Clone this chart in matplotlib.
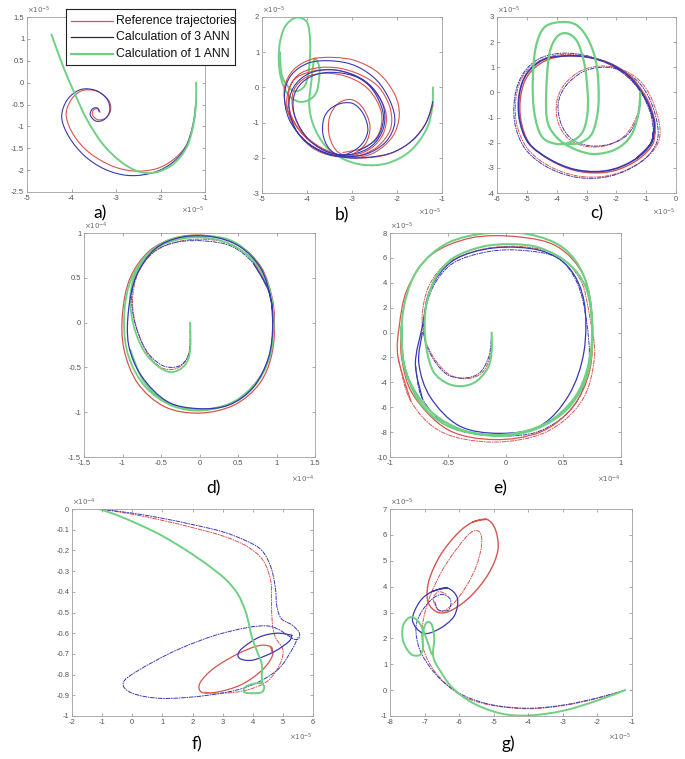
import numpy as np
import matplotlib
matplotlib.use('Agg')
from matplotlib import pyplot as plt
from matplotlib.path import Path
from matplotlib.patches import PathPatch
from matplotlib.ticker import FuncFormatter

plt.rcParams['font.family'] = ['Liberation Sans', 'DejaVu Sans']
plt.rcParams['axes.unicode_minus'] = False

RED = '#d9534f'
BLUE = '#3838b4'
GREEN = '#6fd083'
NAVY = '#23236e'
DASHDOT = (0, (4, 1.5, 1, 1.5))

labels = ['Reference trajectories', 'Calculation of 3 ANN', 'Calculation of 1 ANN']

# ---- panel a (x, y in 1e-5)
a_ref = [(-1.2, -0.45), (-1.25, -0.9), (-1.4, -1.4), (-1.7, -1.75), (-2.1, -1.97), (-2.6, -2.02),
         (-3.1, -1.9), (-3.6, -1.6), (-3.95, -1.2), (-4.12, -0.75), (-4.0, -0.38), (-3.75, -0.18),
         (-3.42, -0.2), (-3.17, -0.4), (-3.12, -0.62), (-3.22, -0.8), (-3.4, -0.85), (-3.53, -0.74),
         (-3.5, -0.62), (-3.4, -0.6), (-3.36, -0.68)]
a_ann3 = [(-1.2, -0.4), (-1.27, -0.95), (-1.45, -1.5), (-1.8, -1.88), (-2.25, -2.08), (-2.75, -2.12),
          (-3.25, -1.98), (-3.7, -1.68), (-4.05, -1.25), (-4.22, -0.8), (-4.1, -0.4), (-3.8, -0.16),
          (-3.45, -0.18), (-3.2, -0.38), (-3.14, -0.64), (-3.26, -0.84), (-3.45, -0.88), (-3.58, -0.74),
          (-3.53, -0.6), (-3.42, -0.58), (-3.38, -0.66)]
a_ann1 = [(-4.45, 1.1), (-4.2, 0.4), (-3.95, -0.2), (-3.65, -0.85), (-3.3, -1.4), (-2.9, -1.8),
          (-2.5, -2.03), (-2.1, -2.05), (-1.7, -1.85), (-1.4, -1.45), (-1.25, -0.9), (-1.2, -0.4), (-1.2, 0.0)]

# ---- panel b (x, y in 1e-5)
b_ref = [(-1.2, -0.5), (-1.4, -1.1), (-1.75, -1.6), (-2.2, -1.9), (-2.7, -2.0),
         (-3.2, -1.95), (-3.7, -1.7), (-4.15, -1.25), (-4.45, -0.6), (-4.5, 0.0), (-4.3, 0.5), (-3.9, 0.8),
         (-3.4, 0.85), (-2.9, 0.75), (-2.4, 0.4), (-2.05, -0.2), (-1.95, -0.8), (-2.1, -1.4), (-2.5, -1.85),
         (-3.0, -2.0), (-3.5, -1.85), (-4.0, -1.45), (-4.35, -0.8), (-4.4, -0.1), (-4.2, 0.35), (-3.8, 0.55),
         (-3.3, 0.55), (-2.8, 0.35), (-2.4, 0.0), (-2.15, -0.6), (-2.15, -1.2), (-2.45, -1.7), (-2.9, -1.95),
         (-3.3, -1.85), (-3.5, -1.4), (-3.5, -0.85), (-3.3, -0.45), (-3.0, -0.35), (-2.75, -0.6), (-2.6, -1.1),
         (-2.7, -1.6), (-3.0, -1.9), (-3.4, -1.95), (-3.9, -1.7), (-4.3, -1.1), (-4.45, -0.4), (-4.3, 0.2),
         (-3.9, 0.45), (-3.4, 0.5), (-2.9, 0.3), (-2.5, -0.1), (-2.25, -0.7), (-2.3, -1.3), (-2.6, -1.75),
         (-3.1, -1.95), (-3.6, -1.8), (-4.05, -1.35), (-4.3, -0.7), (-4.3, -0.1), (-4.0, 0.3), (-3.5, 0.4),
         (-3.0, 0.25), (-2.6, -0.1), (-2.35, -0.7), (-2.4, -1.3), (-2.7, -1.7), (-3.2, -1.85)]
b_ann3 = [(-1.2, -0.4), (-1.35, -1.0), (-1.65, -1.5), (-2.1, -1.85), (-2.6, -1.98), (-3.1, -2.0),
          (-3.6, -1.85), (-4.05, -1.5), (-4.4, -0.9), (-4.5, -0.2), (-4.35, 0.35), (-3.95, 0.7),
          (-3.4, 0.75), (-2.9, 0.6), (-2.45, 0.2), (-2.15, -0.4), (-2.05, -1.0), (-2.25, -1.55),
          (-2.7, -1.9), (-3.2, -1.95), (-3.5, -1.75), (-3.65, -1.3), (-3.6, -0.8), (-3.35, -0.5),
          (-3.0, -0.45), (-2.75, -0.75), (-2.65, -1.25), (-2.85, -1.7), (-3.3, -1.95), (-3.8, -1.75),
          (-4.2, -1.3), (-4.4, -0.6), (-4.3, 0.0), (-3.95, 0.4), (-3.45, 0.5), (-2.95, 0.35), (-2.55, 0.0),
          (-2.3, -0.55), (-2.3, -1.15), (-2.55, -1.65), (-3.0, -1.9), (-3.5, -1.85), (-3.95, -1.5),
          (-4.25, -0.9), (-4.3, -0.3), (-4.1, 0.15), (-3.7, 0.4), (-3.2, 0.4), (-2.75, 0.2), (-2.45, -0.25),
          (-2.3, -0.85), (-2.45, -1.45), (-2.85, -1.8)]
b_ann1 = [(-1.2, 0.0), (-1.22, -0.6), (-1.35, -1.2), (-1.7, -1.8), (-2.2, -2.15), (-2.75, -2.2),
          (-3.25, -2.0), (-3.6, -1.65), (-3.85, -1.1), (-3.95, -0.5), (-3.9, 0.2), (-3.85, 0.75),
          (-3.8, 0.8), (-3.72, 0.5), (-3.78, -0.1), (-3.95, -0.35), (-4.2, -0.4), (-4.45, -0.15),
          (-4.6, 0.4), (-4.62, 1.1), (-4.5, 1.7), (-4.25, 1.98), (-4.0, 1.85), (-3.93, 1.3), (-3.95, 0.6),
          (-4.05, 0.05), (-4.3, -0.1), (-4.55, 0.3), (-4.6, 1.0)]

# ---- panel c (x, y in 1e-5)
c_ref_dd = [(-1.2, 0.0), (-1.3, -0.9), (-1.7, -1.7), (-2.3, -2.1), (-3.0, -2.15), (-3.6, -1.85),
            (-3.95, -1.2), (-4.0, -0.4), (-3.75, 0.3), (-3.2, 0.85), (-2.5, 1.05), (-1.8, 0.9),
            (-1.2, 0.45), (-0.8, -0.3), (-0.55, -1.3), (-0.6, -2.0), (-1.0, -2.6), (-1.7, -3.1),
            (-2.5, -3.35), (-3.4, -3.3), (-4.3, -2.9), (-5.0, -2.2), (-5.35, -1.2), (-5.35, -0.1),
            (-5.1, 0.7), (-4.6, 1.25), (-3.9, 1.5), (-3.1, 1.45), (-2.3, 1.15), (-1.6, 0.6), (-1.1, -0.1),
            (-0.8, -0.9), (-0.7, -1.6)]
c_ref = [(-0.7, -1.6), (-0.8, -2.1), (-1.25, -2.65), (-1.9, -3.05), (-2.6, -3.2), (-3.4, -3.1),
         (-4.2, -2.7), (-4.9, -2.05), (-5.2, -1.1), (-5.2, -0.1), (-4.95, 0.7), (-4.4, 1.25),
         (-3.7, 1.45), (-2.9, 1.4), (-2.1, 1.1), (-1.45, 0.55), (-0.95, -0.3), (-0.72, -1.1), (-0.7, -1.6)]
c_ann3_dd = [(-1.2, 0.0), (-1.25, -0.85), (-1.6, -1.65), (-2.2, -2.05), (-2.9, -2.12), (-3.5, -1.85),
             (-3.85, -1.25), (-3.95, -0.45), (-3.7, 0.25), (-3.15, 0.8), (-2.5, 1.0), (-1.85, 0.88),
             (-1.25, 0.4), (-0.85, -0.35), (-0.62, -1.3), (-0.65, -2.0), (-1.05, -2.65), (-1.75, -3.15),
             (-2.55, -3.4), (-3.45, -3.35), (-4.35, -2.95), (-5.05, -2.25), (-5.4, -1.25), (-5.4, -0.15),
             (-5.15, 0.7), (-4.65, 1.3), (-3.95, 1.55), (-3.15, 1.5), (-2.35, 1.2), (-1.65, 0.65),
             (-1.15, -0.05), (-0.85, -0.85), (-0.75, -1.55)]
c_ann3 = [(-0.75, -1.55), (-0.85, -2.05), (-1.3, -2.6), (-1.95, -3.0), (-2.65, -3.15), (-3.45, -3.05),
          (-4.25, -2.65), (-4.95, -2.0), (-5.25, -1.05), (-5.25, -0.05), (-5.0, 0.75), (-4.45, 1.3),
          (-3.75, 1.45), (-2.95, 1.4), (-2.15, 1.1), (-1.5, 0.55), (-1.0, -0.3), (-0.75, -1.1), (-0.75, -1.55),
          (-0.85, -2.05), (-1.3, -2.6)]
c_ann1 = [(-1.2, 0.0), (-1.25, -0.8), (-1.5, -1.7), (-2.0, -2.25), (-2.7, -2.45), (-3.3, -2.3),
          (-3.9, -1.9), (-4.3, -1.2), (-4.35, 0.0), (-4.25, 1.5), (-4.0, 2.2), (-3.65, 2.35),
          (-3.3, 2.0), (-3.05, 1.0), (-2.95, -0.5), (-3.1, -1.5), (-3.5, -1.95), (-4.0, -2.05),
          (-4.5, -1.75), (-4.75, -0.8), (-4.8, 0.5), (-4.7, 1.8), (-4.4, 2.6), (-3.8, 2.8),
          (-3.3, 2.65), (-2.9, 2.0), (-2.65, 1.0), (-2.6, -0.5), (-2.8, -1.6), (-3.2, -2.0), (-3.6, -2.05)]

# ---- panel d (x, y in 1e-4)
d_ref_dd = [(-0.12, 0.0), (-0.13, -0.3), (-0.2, -0.45), (-0.33, -0.52), (-0.5, -0.5), (-0.68, -0.34),
            (-0.82, -0.05), (-0.87, 0.25), (-0.8, 0.55), (-0.6, 0.78), (-0.3, 0.9), (0.05, 0.93),
            (0.4, 0.88), (0.68, 0.7), (0.88, 0.4)]
d_ref = [(0.68, 0.7), (0.88, 0.4), (0.97, 0.05), (0.94, -0.35), (0.78, -0.68), (0.45, -0.92), (0.0, -1.01),
         (-0.45, -0.94), (-0.8, -0.68), (-0.98, -0.3), (-1.0, 0.1), (-0.9, 0.5), (-0.65, 0.8),
         (-0.3, 0.95), (0.1, 0.97), (0.5, 0.87), (0.8, 0.62), (0.95, 0.25), (0.97, -0.05)]
d_ann3_dd = [(-0.12, 0.0), (-0.13, -0.32), (-0.22, -0.46), (-0.36, -0.5), (-0.52, -0.46), (-0.7, -0.3),
             (-0.84, 0.0), (-0.88, 0.3), (-0.8, 0.57), (-0.58, 0.8), (-0.28, 0.9), (0.08, 0.91),
             (0.42, 0.85), (0.7, 0.66), (0.9, 0.35)]
d_ann3 = [(0.7, 0.66), (0.9, 0.35), (0.95, 0.0), (0.9, -0.38), (0.7, -0.72), (0.38, -0.92), (-0.02, -0.96),
          (-0.42, -0.88), (-0.75, -0.6), (-0.92, -0.25), (-0.92, 0.15), (-0.82, 0.52), (-0.58, 0.82),
          (-0.25, 0.95), (0.15, 0.96), (0.52, 0.85), (0.8, 0.6), (0.93, 0.25), (0.95, 0.0)]
d_ann1 = [(-0.12, 0.0), (-0.12, -0.3), (-0.17, -0.45), (-0.27, -0.53), (-0.4, -0.55), (-0.55, -0.48),
          (-0.72, -0.32), (-0.85, -0.05), (-0.9, 0.25), (-0.85, 0.5), (-0.7, 0.72), (-0.45, 0.88),
          (-0.1, 0.95), (0.25, 0.92), (0.55, 0.8), (0.78, 0.6), (0.92, 0.3), (0.96, 0.0), (0.92, -0.35),
          (0.75, -0.65), (0.45, -0.88), (0.05, -0.98), (-0.35, -0.93), (-0.7, -0.72), (-0.92, -0.38),
          (-0.98, 0.0), (-0.92, 0.4), (-0.72, 0.72), (-0.4, 0.92), (0.0, 0.97), (0.4, 0.92), (0.7, 0.72),
          (0.9, 0.4), (0.96, 0.0), (0.9, -0.4), (0.72, -0.7), (0.42, -0.9), (0.0, -0.97), (-0.4, -0.9),
          (-0.72, -0.66), (-0.9, -0.3)]

# ---- panel e (x in 1e-4, y in 1e-5)
e_ref_dd = [(-0.12, 0.0), (-0.13, -1.8), (-0.2, -3.2), (-0.33, -3.7), (-0.48, -3.4), (-0.6, -2.3),
            (-0.7, -0.5), (-0.72, 1.5), (-0.66, 3.8), (-0.5, 5.6), (-0.2, 6.7), (0.15, 6.9), (0.45, 6.2),
            (0.65, 4.2), (0.73, 1.2), (0.77, -2.0), (0.66, -5.5), (0.35, -8.0), (-0.1, -8.8),
            (-0.55, -8.0), (-0.82, -5.5), (-0.93, -2.0)]
e_ref = [(-0.82, -5.5), (-0.93, -2.0), (-0.92, 0.5), (-0.85, 3.5), (-0.65, 6.2), (-0.3, 7.6), (0.1, 7.7),
         (0.45, 6.9), (0.68, 4.5), (0.75, 1.0), (0.73, -3.0), (0.58, -6.0), (0.3, -8.0), (-0.1, -8.6),
         (-0.5, -7.8), (-0.8, -5.0), (-0.9, -2.0), (-0.9, 0.5)]
e_ann3_dd = [(-0.12, 0.0), (-0.14, -1.8), (-0.22, -3.2), (-0.35, -3.65), (-0.5, -3.4), (-0.62, -2.2),
             (-0.7, -0.5), (-0.7, 1.5), (-0.62, 3.8), (-0.45, 5.6), (-0.15, 6.5), (0.15, 6.6), (0.45, 6.0),
             (0.62, 4.0), (0.7, 1.0), (0.72, -2.5), (0.6, -5.8), (0.3, -7.9), (-0.08, -8.3),
             (-0.48, -7.6), (-0.72, -5.3), (-0.78, -2.5)]
e_ann3 = [(-0.72, -5.3), (-0.78, -2.5), (-0.72, 0.5), (-0.65, 3.5), (-0.45, 5.8), (-0.1, 6.8), (0.3, 6.6),
          (0.55, 5.2), (0.68, 2.5), (0.68, -1.5), (0.55, -5.0), (0.3, -7.5), (-0.05, -8.1),
          (-0.4, -7.5), (-0.65, -5.2), (-0.75, -2.5), (-0.72, 0.0)]
e_ann1 = [(-0.12, 0.0), (-0.12, -1.5), (-0.15, -2.8), (-0.25, -3.9), (-0.37, -4.3), (-0.5, -4.1),
          (-0.62, -3.2), (-0.68, -1.5), (-0.7, 0.5), (-0.68, 2.5), (-0.6, 4.5), (-0.45, 6.0), (-0.2, 6.9),
          (0.05, 7.1), (0.3, 6.8), (0.55, 5.5), (0.7, 3.5), (0.75, 0.5), (0.72, -2.5), (0.6, -5.2),
          (0.35, -7.3), (0.0, -8.2), (-0.35, -7.9), (-0.65, -6.3), (-0.85, -3.5), (-0.9, -0.5),
          (-0.87, 2.5), (-0.75, 5.2), (-0.5, 7.2), (-0.15, 8.0), (0.2, 7.9), (0.5, 6.8), (0.68, 4.5),
          (0.75, 1.0), (0.72, -3.0), (0.55, -6.0), (0.25, -7.8), (-0.1, -8.3), (-0.5, -7.5),
          (-0.75, -5.5), (-0.88, -2.5), (-0.9, 0.5)]

# ---- panel f (x in 1e-5, y in 1e-4)
f_ref_dd = [(-1.1, 0.0), (0.0, -0.025), (1.0, -0.055), (2.0, -0.09), (3.0, -0.13), (3.8, -0.18),
            (4.35, -0.25), (4.6, -0.35), (4.62, -0.45), (4.65, -0.55), (4.75, -0.62), (5.0, -0.68),
            (4.9, -0.75), (4.5, -0.83), (3.8, -0.875), (3.0, -0.89), (2.4, -0.885)]
f_ref = [(4.65, -0.69), (4.6, -0.665), (4.2, -0.66), (3.5, -0.7), (2.7, -0.77), (2.25, -0.84),
         (2.3, -0.885), (2.8, -0.885), (3.6, -0.85), (4.3, -0.78), (4.65, -0.71), (4.6, -0.67)]
f_ann3_dd = [(-1.1, 0.0), (0.0, -0.02), (1.0, -0.045), (2.0, -0.075), (3.0, -0.11), (3.8, -0.155),
             (4.3, -0.2), (4.6, -0.28), (4.75, -0.38), (4.8, -0.47), (4.95, -0.53), (5.3, -0.56),
             (5.55, -0.6), (5.4, -0.63), (4.5, -0.565), (3.0, -0.6), (1.5, -0.68), (0.2, -0.78),
             (-0.3, -0.84), (0.0, -0.89), (1.0, -0.915), (2.5, -0.9), (3.8, -0.86), (4.8, -0.78),
             (5.3, -0.68), (5.5, -0.62)]
f_ann3 = [(5.3, -0.61), (4.8, -0.6), (4.2, -0.62), (3.6, -0.68), (3.55, -0.72), (4.0, -0.73),
          (4.7, -0.69), (5.2, -0.64), (5.3, -0.61)]
f_ann1 = [(-1.1, 0.0), (-0.5, -0.03), (0.3, -0.08), (1.0, -0.13), (1.8, -0.2), (2.5, -0.27),
          (3.1, -0.34), (3.5, -0.41), (3.75, -0.49), (3.88, -0.56), (3.97, -0.62), (4.15, -0.69),
          (4.3, -0.75), (4.3, -0.81), (4.32, -0.84), (4.38, -0.86), (4.3, -0.885), (4.0, -0.89),
          (3.72, -0.885), (3.75, -0.86), (4.0, -0.845), (4.3, -0.84)]

# ---- panel g (x, y in 1e-5)
g_ref_dd = [(-1.2, 0.0), (-2.0, -0.32), (-3.0, -0.6), (-4.0, -0.72), (-5.0, -0.6), (-5.8, -0.3),
            (-6.35, 0.2), (-6.8, 0.9), (-7.05, 1.7), (-7.05, 2.6), (-6.85, 3.6), (-6.5, 4.6),
            (-6.05, 5.5), (-5.65, 6.1), (-5.4, 6.1), (-5.35, 5.6), (-5.5, 4.8), (-5.8, 4.0), (-6.2, 3.3),
            (-6.55, 3.05), (-6.75, 3.5), (-6.6, 3.8), (-6.35, 3.7)]
g_ref = [(-5.6, 6.5), (-5.2, 6.6), (-4.95, 6.2), (-4.88, 5.4), (-5.15, 4.5), (-5.65, 3.65), (-6.2, 3.1),
         (-6.6, 3.0), (-6.9, 3.4), (-6.88, 4.2), (-6.55, 5.2), (-6.05, 6.05), (-5.6, 6.5), (-5.2, 6.6)]
g_ann3_dd = [(-1.2, 0.0), (-2.0, -0.3), (-3.0, -0.58), (-4.0, -0.7), (-5.0, -0.58), (-5.8, -0.25),
             (-6.4, 0.25), (-6.85, 0.9), (-7.15, 1.6), (-7.25, 2.4), (-7.1, 3.0), (-6.8, 3.5),
             (-6.5, 3.7), (-6.25, 3.5), (-6.3, 3.1), (-6.6, 3.1), (-6.7, 3.4)]
g_ann3 = [(-6.8, 3.8), (-6.35, 3.95), (-6.05, 3.55), (-6.15, 2.85), (-6.6, 2.35), (-7.05, 2.2),
          (-7.35, 2.7), (-7.15, 3.4), (-6.8, 3.8), (-6.35, 3.95)]
g_ann1 = [(-1.2, 0.0), (-2.0, -0.4), (-3.0, -0.8), (-4.0, -0.98), (-4.8, -0.9), (-5.6, -0.5),
          (-6.2, 0.1), (-6.55, 0.75), (-6.75, 1.3), (-6.72, 2.0), (-6.8, 2.55), (-6.95, 2.6),
          (-7.05, 2.2), (-7.05, 1.6), (-7.15, 1.35), (-7.4, 1.4), (-7.62, 1.9), (-7.62, 2.5),
          (-7.4, 2.82), (-7.15, 2.6), (-6.95, 2.0), (-6.8, 1.4)]


def px(x0, y0, x1, y1):
    return [x0 / 685, 1 - y1 / 759, (x1 - x0) / 685, (y1 - y0) / 759]


def line(ax, pts, color, lw=0.8, ls='-'):
    # smooth cubic path through the read points (Catmull-Rom style handles)
    p = np.array(pts, dtype=float)
    n = len(p)
    verts = [p[0]]
    codes = [Path.MOVETO]
    for i in range(n - 1):
        p0 = p[i - 1] if i > 0 else p[i]
        p3 = p[i + 2] if i + 2 < n else p[i + 1]
        verts += [p[i] + (p[i + 1] - p0) / 6, p[i + 1] - (p3 - p[i]) / 6, p[i + 1]]
        codes += [Path.CURVE4] * 3
    ax.add_patch(PathPatch(Path(verts, codes), fill=False, edgecolor=color, lw=lw,
                           ls=ls, capstyle='round', joinstyle='round'))


def tick_fmt(v, pos):
    s = '%g' % (round(v, 6) + 0.0)
    return '0' if s == '-0' else s


def style(ax, xlim, ylim, xt, yt, xexp, yexp):
    ax.set_xlim(xlim)
    ax.set_ylim(ylim)
    ax.set_xticks(xt)
    ax.set_yticks(yt)
    ax.xaxis.set_major_formatter(FuncFormatter(tick_fmt))
    ax.yaxis.set_major_formatter(FuncFormatter(tick_fmt))
    ax.tick_params(direction='in', top=True, right=True, length=2.5, width=0.5,
                   color='#888888', labelcolor='#555555', labelsize=5.5, pad=2)
    for s in ax.spines.values():
        s.set_color('#a0a0a0')
        s.set_linewidth(0.6)
    ax.text(0.0, 1.004, r'$\times10^{' + yexp + '}$', transform=ax.transAxes,
            fontsize=5, color='#666666', va='bottom', ha='left')
    ax.text(1.0, -0.075, r'$\times10^{' + xexp + '}$', transform=ax.transAxes,
            fontsize=5, color='#666666', va='top', ha='right')


fig = plt.figure(figsize=(6.85, 7.59), dpi=100)

# a
ax = fig.add_axes(px(27, 17, 205, 192))
line(ax, a_ref, RED)
line(ax, a_ann3, BLUE)
line(ax, a_ann1, GREEN, lw=1.4)
style(ax, (-5, -1), (-2.5, 1.5), np.arange(-5, 0), np.arange(-2.5, 1.6, 0.5), '-5', '-5')

# b
ax = fig.add_axes(px(262, 17, 442, 193))
line(ax, b_ann1, GREEN, lw=1.4)
line(ax, b_ref, RED)
line(ax, b_ann3, BLUE)
style(ax, (-5, -1), (-3, 2), np.arange(-5, 0), np.arange(-3, 3), '-5', '-5')

# c
ax = fig.add_axes(px(497, 17, 676, 193))
line(ax, c_ref_dd, RED, lw=0.7, ls=DASHDOT)
line(ax, c_ann3_dd, BLUE, lw=0.7, ls=DASHDOT)
line(ax, c_ref, RED, lw=1.0)
line(ax, c_ann3, BLUE, lw=1.2)
line(ax, c_ann1, GREEN, lw=1.6)
style(ax, (-6, 0), (-4, 3), np.arange(-6, 1), np.arange(-4, 4), '-5', '-5')

# d
ax = fig.add_axes(px(84, 233, 315, 457))
line(ax, d_ref_dd, RED, lw=0.7, ls=DASHDOT)
line(ax, d_ann3_dd, BLUE, lw=0.7, ls=DASHDOT)
line(ax, d_ref, RED, lw=0.9)
line(ax, d_ann1, GREEN, lw=1.3)
line(ax, d_ann3, BLUE, lw=0.9)
style(ax, (-1.5, 1.5), (-1.5, 1), np.arange(-1.5, 1.6, 0.5), np.arange(-1.5, 1.1, 0.5), '-4', '-4')

# e
ax = fig.add_axes(px(390, 233, 621, 457))
line(ax, e_ref_dd, RED, lw=0.7, ls=DASHDOT)
line(ax, e_ann3_dd, BLUE, lw=0.7, ls=DASHDOT)
line(ax, e_ref, RED, lw=0.9)
line(ax, e_ann3, BLUE, lw=0.9)
line(ax, e_ann1, GREEN, lw=1.5)
style(ax, (-1, 1), (-10, 8), np.arange(-1, 1.1, 0.5), np.arange(-10, 9, 2), '-4', '-5')

# f
ax = fig.add_axes(px(72, 509, 313, 716))
line(ax, f_ref_dd, RED, lw=0.7, ls=DASHDOT)
line(ax, f_ann3_dd, BLUE, lw=0.7, ls=DASHDOT)
line(ax, f_ref, RED, lw=0.9)
line(ax, f_ann3, BLUE, lw=0.9)
line(ax, f_ann1, GREEN, lw=1.4)
style(ax, (-2, 6), (-1, 0), np.arange(-2, 7), np.arange(-1, 0.01, 0.1), '-5', '-4')

# g
ax = fig.add_axes(px(390, 509, 632, 716))
line(ax, g_ref_dd, RED, lw=0.7, ls=DASHDOT)
line(ax, g_ann3_dd, BLUE, lw=0.7, ls=DASHDOT)
line(ax, g_ref, RED, lw=1.0)
line(ax, g_ann3, BLUE, lw=0.9)
line(ax, g_ann1, GREEN, lw=1.4)
style(ax, (-8, -1), (-1, 7), np.arange(-8, 0), np.arange(-1, 8), '-5', '-5')

# panel letters
for lab, x, y in [('a)', 100, 213), ('b)', 342, 215), ('c)', 597, 213), ('d)', 213, 488),
                  ('e)', 500, 488), ('f)', 197, 744), ('g)', 508, 744)]:
    fig.text(x / 685, 1 - y / 759, lab, fontsize=12.5, family=['Lato', 'DejaVu Sans'],
             ha='center', va='center')

# legend box
lg = fig.add_axes(px(66, 9, 235, 65))
lg.set_xlim(0, 1)
lg.set_ylim(0, 1)
lg.set_xticks([])
lg.set_yticks([])
for s in lg.spines.values():
    s.set_color('#222222')
    s.set_linewidth(0.8)
for lab, col, lw, yy in zip(labels, [RED, NAVY, GREEN], [0.9, 0.9, 1.5], [0.786, 0.5, 0.196]):
    lg.plot([0.03, 0.28], [yy, yy], color=col, lw=lw)
    lg.text(0.295, yy, lab, fontsize=8.8, va='center', ha='left', color='#111111')

fig.savefig('out.png', dpi=100, facecolor='white')
